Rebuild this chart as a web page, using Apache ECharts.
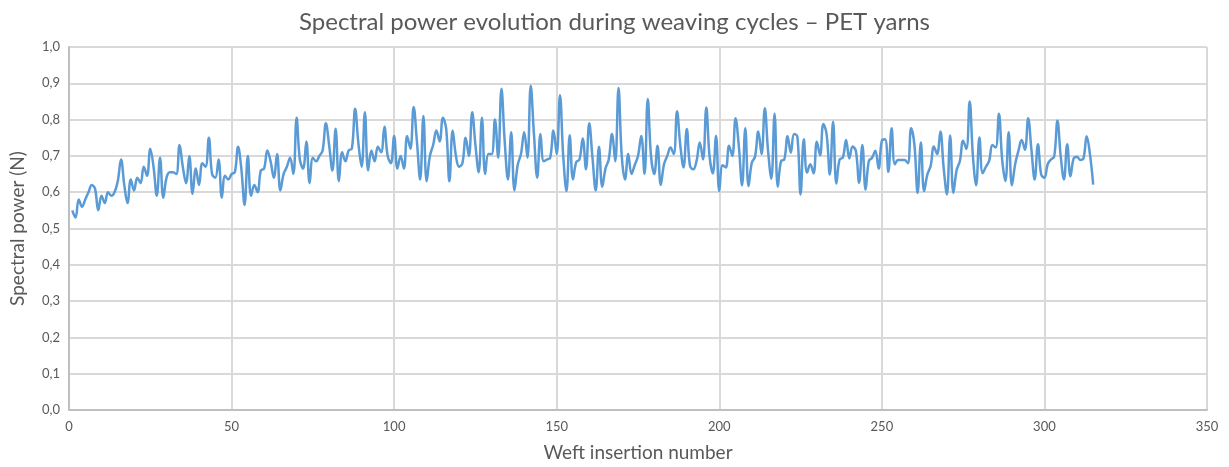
<!DOCTYPE html>
<html>
<head>
<meta charset="utf-8">
<title>Spectral power evolution</title>
<script src="https://cdn.jsdelivr.net/npm/echarts@6/dist/echarts.min.js"></script>
<style>
  html, body { margin: 0; padding: 0; background: #fff; }
  #chart { width: 1229px; height: 467px; }
</style>
</head>
<body>
<div id="chart"></div>
<script>
// spectral power (N) per weft insertion, starting at insertion 1
var firstInsertion = 1;
var spectralPower = [
    0.55, 0.53, 0.58, 0.56, 0.58, 0.60, 0.62, 0.61, 0.55, 0.59,
    0.57, 0.60, 0.59, 0.60, 0.63, 0.69, 0.62, 0.57, 0.635, 0.605,
    0.64, 0.625, 0.67, 0.645, 0.72, 0.67, 0.59, 0.695, 0.585, 0.64,
    0.655, 0.655, 0.65, 0.73, 0.67, 0.625, 0.70, 0.595, 0.665, 0.62,
    0.68, 0.67, 0.75, 0.65, 0.64, 0.69, 0.585, 0.645, 0.635, 0.65,
    0.655, 0.725, 0.665, 0.565, 0.70, 0.59, 0.62, 0.60, 0.66, 0.665,
    0.715, 0.685, 0.64, 0.705, 0.605, 0.65, 0.67, 0.695, 0.65, 0.805,
    0.69, 0.665, 0.74, 0.625, 0.695, 0.685, 0.70, 0.715, 0.79, 0.73,
    0.66, 0.775, 0.63, 0.71, 0.685, 0.715, 0.72, 0.83, 0.735, 0.67,
    0.82, 0.66, 0.715, 0.685, 0.725, 0.71, 0.78, 0.70, 0.68, 0.755,
    0.665, 0.70, 0.665, 0.755, 0.72, 0.835, 0.74, 0.635, 0.81, 0.63,
    0.70, 0.73, 0.77, 0.74, 0.805, 0.775, 0.63, 0.77, 0.70, 0.67,
    0.68, 0.75, 0.70, 0.82, 0.73, 0.655, 0.805, 0.65, 0.705, 0.705,
    0.80, 0.695, 0.885, 0.74, 0.635, 0.765, 0.605, 0.675, 0.705, 0.765,
    0.695, 0.893, 0.76, 0.64, 0.76, 0.685, 0.69, 0.695, 0.77, 0.705,
    0.867, 0.70, 0.603, 0.757, 0.635, 0.683, 0.69, 0.748, 0.663, 0.79,
    0.695, 0.605, 0.725, 0.615, 0.665, 0.69, 0.76, 0.685, 0.887, 0.70,
    0.635, 0.705, 0.65, 0.675, 0.70, 0.755, 0.65, 0.857, 0.70, 0.65,
    0.728, 0.62, 0.677, 0.70, 0.723, 0.705, 0.823, 0.73, 0.668, 0.774,
    0.672, 0.663, 0.686, 0.737, 0.69, 0.833, 0.70, 0.652, 0.755, 0.603,
    0.674, 0.668, 0.728, 0.70, 0.804, 0.728, 0.619, 0.776, 0.617, 0.681,
    0.698, 0.767, 0.705, 0.831, 0.714, 0.637, 0.816, 0.615, 0.686, 0.69,
    0.754, 0.709, 0.76, 0.754, 0.594, 0.746, 0.654, 0.677, 0.652, 0.739,
    0.702, 0.788, 0.76, 0.649, 0.794, 0.624, 0.69, 0.695, 0.744, 0.693,
    0.726, 0.714, 0.626, 0.73, 0.607, 0.686, 0.695, 0.714, 0.665, 0.742,
    0.746, 0.656, 0.776, 0.677, 0.689, 0.689, 0.689, 0.68, 0.776, 0.732,
    0.598, 0.737, 0.603, 0.649, 0.672, 0.726, 0.705, 0.767, 0.668, 0.594,
    0.756, 0.598, 0.661, 0.686, 0.742, 0.719, 0.85, 0.70, 0.619, 0.751,
    0.652, 0.67, 0.686, 0.73, 0.723, 0.816, 0.69, 0.631, 0.765, 0.619,
    0.677, 0.714, 0.744, 0.717, 0.804, 0.717, 0.635, 0.732, 0.649, 0.64,
    0.677, 0.69, 0.698, 0.797, 0.70, 0.635, 0.732, 0.644, 0.693, 0.698,
    0.689, 0.693, 0.754, 0.705, 0.621
];

var points = [];
for (var i = 0; i < spectralPower.length; i++) {
    points.push([firstInsertion + i, spectralPower[i]]);
}

var textColor = '#595959';
var gridColor = '#d9d9d9';
var font = 'Lato, "Open Sans", sans-serif';

var chart = echarts.init(document.getElementById('chart'));
chart.setOption({
    animation: false,
    backgroundColor: '#fff',
    title: {
        text: 'Spectral power evolution during weaving cycles \u2013 PET yarns',
        left: 'center',
        top: 5,
        textStyle: { color: textColor, fontSize: 24, fontWeight: 'normal', fontFamily: font }
    },
    grid: { left: 66, right: 22, top: 47, bottom: 56 },
    xAxis: {
        type: 'value',
        min: 0,
        max: 350,
        interval: 50,
        name: 'Weft insertion number',
        nameLocation: 'middle',
        nameGap: 33,
        nameTextStyle: { color: textColor, fontSize: 19, fontFamily: font },
        axisLine: { lineStyle: { color: '#bfbfbf', width: 2 } },
        axisTick: { show: false },
        axisLabel: { color: textColor, fontSize: 13, fontFamily: font, margin: 10 },
        splitLine: { show: true, lineStyle: { color: gridColor, width: 2 } }
    },
    yAxis: {
        type: 'value',
        min: 0,
        max: 1,
        interval: 0.1,
        name: 'Spectral power (N)',
        nameLocation: 'middle',
        nameGap: 42,
        nameTextStyle: { color: textColor, fontSize: 19, fontFamily: font },
        axisLine: { show: true, lineStyle: { color: '#bfbfbf', width: 2 } },
        axisTick: { show: false },
        axisLabel: {
            color: textColor, fontSize: 13, fontFamily: font, margin: 9,
            formatter: function (v) { return v.toFixed(1).replace('.', ','); }
        },
        splitLine: { show: true, lineStyle: { color: gridColor, width: 2 } }
    },
    series: [{
        type: 'line',
        data: points,
        smooth: 0.4,
        showSymbol: false,
        lineStyle: { color: '#5b9bd5', width: 2.5 }
    }]
});
</script>
</body>
</html>
